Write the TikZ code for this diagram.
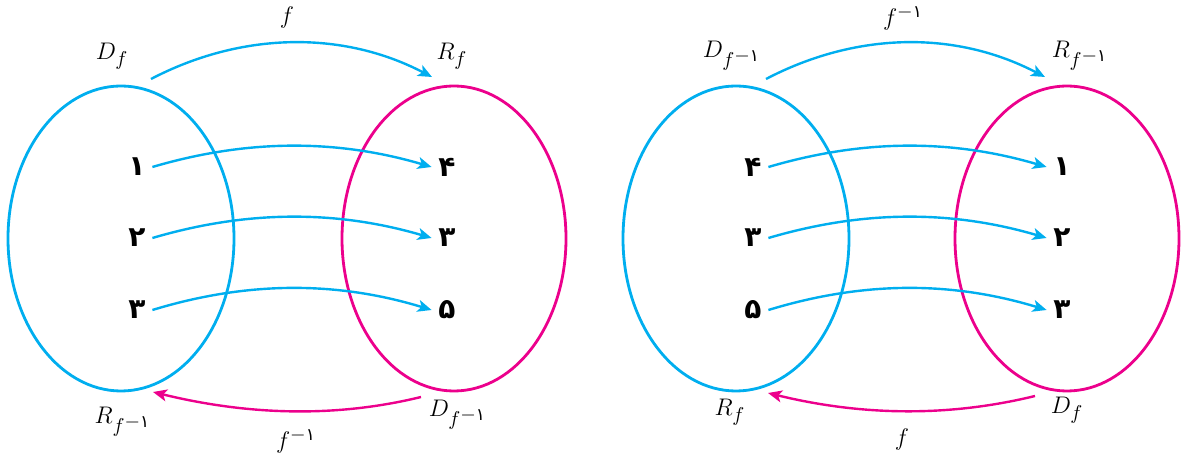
\documentclass[tikz,border=0pt]{standalone}
\usepackage{amsmath}
\usepackage{fontspec}
\newfontfamily\fa[Script=Arabic]{DejaVu Sans}
\usetikzlibrary{arrows.meta,shapes.geometric}
\definecolor{setblue}{RGB}{0,174,239}
\definecolor{setpink}{RGB}{236,0,140}
\DeclareMathSizes{12}{12}{10}{8}
\newcommand{\invf}{f^{\scriptstyle -\mbox{\fa\fontsize{8.5}{8.5}\selectfont ۱}}}

\begin{document}
\begin{tikzpicture}[x=0.5pt, y=-0.5pt, font=\fontsize{12}{14}\selectfont]
\tikzset{
  domset/.style={draw=setblue, line width=1.4pt, ellipse, minimum width=113pt, minimum height=152.5pt},
  rngset/.style={draw=setpink, line width=1.4pt, ellipse, minimum width=112pt, minimum height=152.5pt},
  elem/.style ={font=\fa\bfseries\fontsize{14}{14}\selectfont, inner sep=0pt, minimum width=15pt, minimum height=10pt},
  lab/.style  ={inner sep=0pt},
  mapB/.style={-{Stealth[length=7pt,width=6pt,inset=1.8pt]}, line width=1.2pt, draw=setblue},
  mapP/.style={-{Stealth[length=7pt,width=6pt,inset=1.8pt]}, line width=1.2pt, draw=setpink}
}
\useasboundingbox (0,0) rectangle (1184,459);
% left: f
\node (A)[domset] at (121,238.5) {};
\node (B)[rngset] at (454,238.5) {};
\node (a1)[elem] at (137,167) {۱};
\node (a2)[elem] at (137,238) {۲};
\node (a3)[elem] at (137,310) {۳};
\node (b4)[elem] at (447,167) {۴};
\node (b3)[elem] at (447,238) {۳};
\node (b5)[elem] at (447,310) {۵};
\draw[mapB](a1.east) .. controls +(95,-28) and +(-95,-28) .. (b4.west);
\draw[mapB](a2.east) .. controls +(95,-28) and +(-95,-28) .. (b3.west);
\draw[mapB](a3.east) .. controls +(95,-29) and +(-95,-29) .. (b5.west);
\node (DfA)[lab] at (112,56) {$D_f$};
\node (RfA)[lab] at (452,56) {$R_f$};
\node (fA)[lab] at (287,18) {$f$};
\node (RiA)[lab] at (123,422) {$R_{\invf}$};
\node (DiA)[lab] at (458,415) {$D_{\invf}$};
\node (iA)[lab] at (296,441) {$\invf$};
\coordinate (tsA) at (151,79); \coordinate (teA) at (432,77);
\coordinate (bsA) at (421,397); \coordinate (beA) at (153,392);
\draw[mapB](tsA) .. controls +(90,-47) and +(-90,-47) .. (teA);
\draw[mapP](bsA) .. controls +(-90,22) and +(90,22) .. (beA);
% right: f^-1
\node (C)[domset] at (736,238.5) {};
\node (E)[rngset] at (1067,238.5) {};
\node (c4)[elem] at (753,167) {۴};
\node (c3)[elem] at (753,238) {۳};
\node (c5)[elem] at (753,310) {۵};
\node (e1)[elem] at (1062,167) {۱};
\node (e2)[elem] at (1062,238) {۲};
\node (e3)[elem] at (1062,310) {۳};
\draw[mapB](c4.east) .. controls +(95,-28) and +(-95,-28) .. (e1.west);
\draw[mapB](c3.east) .. controls +(95,-28) and +(-95,-28) .. (e2.west);
\draw[mapB](c5.east) .. controls +(95,-29) and +(-95,-29) .. (e3.west);
\node (DiC)[lab] at (732,56) {$D_{\invf}$};
\node (RiC)[lab] at (1080,56) {$R_{\invf}$};
\node (iC)[lab] at (903,18) {$\invf$};
\node (RfC)[lab] at (730,412) {$R_f$};
\node (DfC)[lab] at (1067,410) {$D_f$};
\node (fC)[lab] at (902,440) {$f$};
\coordinate (tsC) at (766,79); \coordinate (teC) at (1045,77);
\coordinate (bsC) at (1035,396); \coordinate (beC) at (768,393);
\draw[mapB](tsC) .. controls +(90,-47) and +(-90,-47) .. (teC);
\draw[mapP](bsC) .. controls +(-90,22) and +(90,22) .. (beC);
\end{tikzpicture}
\end{document}
